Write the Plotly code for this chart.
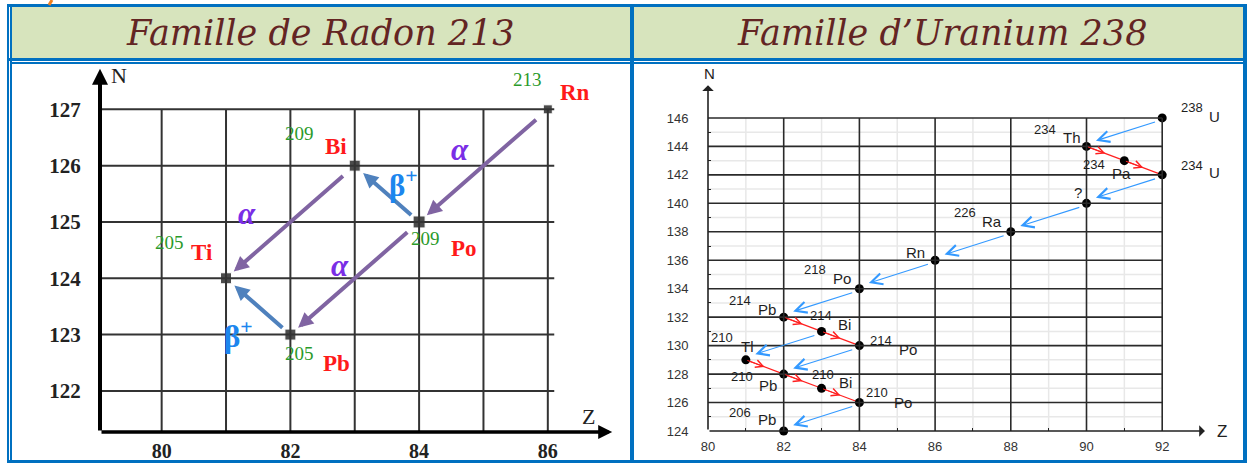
import plotly.graph_objects as go

W, H = 1248, 464

# ---------------- data: Famille de Radon 213 ----------------
rn_Z = [86, 84, 83, 81, 82]
rn_N = [127, 125, 126, 124, 123]
rn_A = ["213", "209", "209", "205", "205"]
rn_sym = ["Rn", "Po", "Bi", "Ti", "Pb"]
rn_decay_from = [0, 1, 2, 1, 4]
rn_decay_to = [1, 2, 3, 4, 3]
rn_decay_type = ["α", "β+", "α", "α", "β+"]
rn_Z_ticks = [80, 82, 84, 86]
rn_N_ticks = [122, 123, 124, 125, 126, 127]
rn_Z_grid = [80, 81, 82, 83, 84, 85, 86]
rn_N_grid = [122, 123, 124, 125, 126, 127]

# ---------------- data: Famille d'Uranium 238 ----------------
u_Z = [92, 90, 91, 92, 90, 88, 86, 84, 82, 83, 84, 81, 82, 83, 84, 82]
u_N = [146, 144, 143, 142, 140, 138, 136, 134, 132, 131, 130, 129, 128, 127, 126, 124]
u_A = ["238", "234", "234", "234", "", "226", "", "218", "214", "214", "214",
       "210", "210", "210", "210", "206"]
u_sym = ["U", "Th", "Pa", "U", "?", "Ra", "Rn", "Po", "Pb", "Bi", "Po",
         "Tl", "Pb", "Bi", "Po", "Pb"]
u_alpha_from = [0, 3, 4, 5, 6, 7, 9, 10, 14]
u_alpha_to = [1, 4, 5, 6, 7, 8, 11, 12, 15]
u_beta_from = [1, 2, 8, 9, 11, 12, 13]
u_beta_to = [2, 3, 9, 10, 12, 13, 14]
u_Z_ticks = [80, 82, 84, 86, 88, 90, 92]
u_N_ticks = [124, 126, 128, 130, 132, 134, 136, 138, 140, 142, 144, 146]
u_Z_minor = [81, 83, 85, 87, 89, 91]
u_N_minor = [125, 127, 129, 131, 133, 135, 137, 139, 141, 143, 145]

# ---------------- styling / geometry ----------------
def PX(x):
    return x / W

def PY(y):
    return 1 - y / H

BLUE = "#0070c0"
SERIF = "Liberation Serif"
SANS = "Liberation Sans"

# left panel scale
L_x0, L_x1, L_zpp, L_zmin = 100, 625, 64.36, 79.042
L_y0, L_y1, L_npp, L_nmin = 432, 65, 56.31, 121.27
L_zmax = L_zmin + (L_x1 - L_x0) / L_zpp
L_nmax = L_nmin + (L_y0 - L_y1) / L_npp
# right panel scale
R_x0, R_x1, R_zpp, R_zmin = 708, 1240, 37.85, 80
R_y0, R_y1, R_npp, R_nmin = 431, 66, 14.23, 124
R_zmax = R_zmin + (R_x1 - R_x0) / R_zpp
R_nmax = R_nmin + (R_y0 - R_y1) / R_npp

fig = go.Figure()

shapes = []
annots = []

# ---- table frame ----
def rect(x0, y0, x1, y1, fill):
    shapes.append(dict(type="rect", xref="paper", yref="paper",
                       x0=PX(x0), x1=PX(x1), y0=PY(y1), y1=PY(y0),
                       fillcolor=fill, line=dict(width=0), layer="below"))

rect(11, 7, 630, 58, "#d7e4bd")
rect(634, 7, 1244, 58, "#d7e4bd")
rect(7, 4, 1247, 7, BLUE)          # top
rect(7, 58, 1247, 61, BLUE)        # title bottom
rect(11, 62, 1244, 64, BLUE)       # second line
rect(7, 4, 9, 463, BLUE)           # left outer
rect(10, 4, 12, 463, BLUE)         # left inner
rect(630, 4, 634, 463, BLUE)       # middle
rect(1243, 4, 1247, 463, BLUE)     # right
rect(7, 460, 1247, 463, BLUE)      # bottom
shapes.append(dict(type="line", xref="paper", yref="paper",
                   x0=PX(52), y0=PY(0), x1=PX(49), y1=PY(5),
                   line=dict(color="#f08020", width=3)))

for txt, cx in [("<i>Famille de Radon 213</i>", 321), ("<i>Famille d’Uranium 238</i>", 942)]:
    annots.append(dict(xref="paper", yref="paper", x=PX(cx), y=PY(33),
                       xanchor="center", yanchor="middle",
                       text=txt, showarrow=False,
                       font=dict(family="DejaVu Serif", size=35, color="#632523")))

# ---- left grid ----
for z in rn_Z_grid:
    shapes.append(dict(type="line", xref="x", yref="y", x0=z, x1=z,
                       y0=L_nmin, y1=max(rn_N_grid), line=dict(color="#333", width=2)))
for n in rn_N_grid:
    shapes.append(dict(type="line", xref="x", yref="y", x0=L_zmin, x1=max(rn_Z_grid) + 0.1,
                       y0=n, y1=n, line=dict(color="#333", width=2)))

# left axes arrows
annots.append(dict(xref="x", yref="y", axref="x", ayref="y", x=L_zmin, y=127.72,
                   ax=L_zmin, ay=L_nmin, showarrow=True, arrowhead=2, arrowsize=0.8,
                   arrowwidth=4, arrowcolor="black", text=""))
annots.append(dict(xref="x", yref="y", axref="x", ayref="y", x=87.0, y=L_nmin,
                   ax=L_zmin, ay=L_nmin, showarrow=True, arrowhead=2, arrowsize=0.8,
                   arrowwidth=3.5, arrowcolor="black", text=""))
annots.append(dict(xref="paper", yref="paper", x=PX(119), y=PY(75), text="N",
                   xanchor="center", yanchor="middle",
                   showarrow=False, font=dict(family=SERIF, size=22, color="#222")))
annots.append(dict(xref="paper", yref="paper", x=PX(588), y=PY(416), text="Z",
                   xanchor="center", yanchor="middle",
                   showarrow=False, font=dict(family=SERIF, size=22, color="#222")))

# left decay arrows
ALPHA_C, BETA_C = "#8064a2", "#4f81bd"
frac = {"α": (0.08, 0.94), "β+": (0.10, 0.87)}
lbl_off = [(-23, -16), (17, -10), (-43, -8), (-15, -13), (-20, 28)]
for k, (i, j, t) in enumerate(zip(rn_decay_from, rn_decay_to, rn_decay_type)):
    f0, f1 = frac[t]
    dz, dn = rn_Z[j] - rn_Z[i], rn_N[j] - rn_N[i]
    annots.append(dict(xref="x", yref="y", axref="x", ayref="y",
                       x=rn_Z[i] + f1 * dz, y=rn_N[i] + f1 * dn,
                       ax=rn_Z[i] + f0 * dz, ay=rn_N[i] + f0 * dn,
                       showarrow=True, arrowhead=2, arrowsize=0.75, arrowwidth=4,
                       arrowcolor=ALPHA_C if t == "α" else BETA_C, text=""))
    mz, mn = rn_Z[i] + 0.5 * dz, rn_N[i] + 0.5 * dn
    ox, oy = lbl_off[k]
    if t == "α":
        txt, col, sz = "<b><i>α</i></b>", "#7a2ee6", 31
    else:
        txt, col, sz = "<b>β<sup>+</sup></b>", "#1c86ee", 31
    annots.append(dict(xref="x", yref="y", x=mz, y=mn, xshift=ox, yshift=-oy,
                       text=txt, showarrow=False, font=dict(family=SERIF, size=sz, color=col)))

# left isotope labels
rn_off = [((-20, -30), (27, -17)), ((6, 17), (45, 27)), ((-55, -32), (-19, -19)),
          ((-57, -36), (-24, -26)), ((9, 19), (46, 29))]
for k in range(len(rn_Z)):
    (mx, my), (sx, sy) = rn_off[k]
    annots.append(dict(xref="x", yref="y", x=rn_Z[k], y=rn_N[k], xshift=mx, yshift=-my,
                       text=rn_A[k], showarrow=False,
                       font=dict(family=SERIF, size=19, color="#2a9a2a")))
    annots.append(dict(xref="x", yref="y", x=rn_Z[k], y=rn_N[k], xshift=sx, yshift=-sy,
                       text="<b>" + rn_sym[k] + "</b>", showarrow=False,
                       font=dict(family=SERIF, size=23, color="#ff1a1a")))

fig.add_trace(go.Scatter(x=rn_Z, y=rn_N, mode="markers", xaxis="x", yaxis="y",
                         marker=dict(symbol="square", color="black",
                                     size=[9, 12, 11, 11, 11]),
                         cliponaxis=False, hoverinfo="skip", showlegend=False))

# ---- right grid ----
for z in u_Z_minor:
    shapes.append(dict(type="line", xref="x2", yref="y2", x0=z, x1=z, y0=R_nmin,
                       y1=max(u_N_ticks), line=dict(color="#e8e8e8", width=1.5), layer="below"))
for n in u_N_minor:
    shapes.append(dict(type="line", xref="x2", yref="y2", x0=R_zmin, x1=max(u_Z_ticks),
                       y0=n, y1=n, line=dict(color="#e8e8e8", width=1.5), layer="below"))
for z in u_Z_ticks[1:]:
    shapes.append(dict(type="line", xref="x2", yref="y2", x0=z, x1=z, y0=R_nmin,
                       y1=max(u_N_ticks), line=dict(color="#2a2a2a", width=1.6)))
for n in u_N_ticks[1:]:
    shapes.append(dict(type="line", xref="x2", yref="y2", x0=R_zmin, x1=max(u_Z_ticks),
                       y0=n, y1=n, line=dict(color="#2a2a2a", width=1.6)))

annots.append(dict(xref="x2", yref="y2", axref="x2", ayref="y2", x=R_zmin, y=148.3,
                   ax=R_zmin, ay=R_nmin, showarrow=True, arrowhead=1, arrowsize=1.2,
                   arrowwidth=1.6, arrowcolor="#222", text=""))
annots.append(dict(xref="x2", yref="y2", axref="x2", ayref="y2", x=93.13, y=R_nmin,
                   ax=R_zmin, ay=R_nmin, showarrow=True, arrowhead=1, arrowsize=1.2,
                   arrowwidth=1.6, arrowcolor="#222", text=""))
annots.append(dict(xref="paper", yref="paper", x=PX(709), y=PY(73), text="N",
                   xanchor="center", yanchor="middle",
                   showarrow=False, font=dict(family=SANS, size=15, color="#222")))
annots.append(dict(xref="paper", yref="paper", x=PX(1222), y=PY(431), text="Z",
                   xanchor="center", yanchor="middle",
                   showarrow=False, font=dict(family=SANS, size=17, color="#222")))

# alpha decays (blue)
for i, j in zip(u_alpha_from, u_alpha_to):
    annots.append(dict(xref="x2", yref="y2", axref="x2", ayref="y2",
                       x=u_Z[j] + 0.25, y=u_N[j] + 0.4,
                       ax=u_Z[i] - 0.15, ay=u_N[i] - 0.25,
                       showarrow=True, arrowhead=5, arrowsize=2.0, arrowwidth=1.1,
                       arrowcolor="#3399ff", text=""))

# beta- decays (red)
bx, by = [], []
for i, j in zip(u_beta_from, u_beta_to):
    bx += [u_Z[i], u_Z[j], None]
    by += [u_N[i], u_N[j], None]
    mz = u_Z[i] + 0.5 * (u_Z[j] - u_Z[i])
    mn = u_N[i] + 0.5 * (u_N[j] - u_N[i])
    annots.append(dict(xref="x2", yref="y2", axref="x2", ayref="y2",
                       x=mz, y=mn, ax=u_Z[i], ay=u_N[i],
                       showarrow=True, arrowhead=5, arrowsize=1.5, arrowwidth=1.0,
                       arrowcolor="#ff2020", text=""))
fig.add_trace(go.Scatter(x=bx, y=by, mode="lines", xaxis="x2", yaxis="y2",
                         line=dict(color="#ff2020", width=1.2),
                         hoverinfo="skip", showlegend=False))

fig.add_trace(go.Scatter(x=u_Z, y=u_N, mode="markers", xaxis="x2", yaxis="y2",
                         marker=dict(symbol="circle", color="black", size=9),
                         cliponaxis=False, hoverinfo="skip", showlegend=False))

u_off = [((30, -10), (52, -1)), ((-42, -17), (-15, -9)), ((-30, 4), (-3, 13)),
         ((30, -9), (52, -2)), ((0, 0), (-9, -11)), ((-46, -19), (-19, -10)),
         ((0, 0), (-20, -8)), ((-44, -19), (-17, -10)), ((-44, -17), (-17, -8)),
         ((-1, -16), (23, -7)), ((22, -5), (49, 4)), ((-24, -22), (2, -13)),
         ((-42, 2), (-16, 11)), ((1, -14), (24, -6)), ((18, -10), (44, 0)),
         ((-44, -19), (-17, -12))]
for k in range(len(u_Z)):
    (mx, my), (sx, sy) = u_off[k]
    if u_A[k]:
        annots.append(dict(xref="x2", yref="y2", x=u_Z[k], y=u_N[k], xshift=mx, yshift=-my,
                           text=u_A[k], showarrow=False,
                           font=dict(family=SANS, size=13, color="#1e1e1e")))
    annots.append(dict(xref="x2", yref="y2", x=u_Z[k], y=u_N[k], xshift=sx, yshift=-sy,
                       text=u_sym[k], showarrow=False,
                       font=dict(family=SANS, size=15, color="#1e1e1e")))

fig.update_layout(
    width=W, height=H, margin=dict(l=0, r=0, t=0, b=0, autoexpand=False),
    paper_bgcolor="white", plot_bgcolor="rgba(0,0,0,0)",
    showlegend=False, shapes=shapes, annotations=annots,
    xaxis=dict(domain=[PX(L_x0), PX(L_x1)], range=[L_zmin, L_zmax], anchor="y",
               tickvals=rn_Z_ticks, ticktext=["<b>%d</b>" % v for v in rn_Z_ticks],
               ticks="outside", ticklen=1, tickcolor="rgba(0,0,0,0)",
               showgrid=False, zeroline=False, showline=False,
               tickfont=dict(family=SERIF, size=20, color="#222")),
    yaxis=dict(domain=[PY(L_y0), PY(L_y1)], range=[L_nmin, L_nmax], anchor="x",
               tickvals=rn_N_ticks, ticktext=["<b>%d</b>" % v for v in rn_N_ticks],
               ticks="outside", ticklen=14, tickcolor="rgba(0,0,0,0)",
               showgrid=False, zeroline=False, showline=False,
               tickfont=dict(family=SERIF, size=21, color="#222")),
    xaxis2=dict(domain=[PX(R_x0), PX(R_x1)], range=[R_zmin, R_zmax], anchor="y2",
                tickvals=u_Z_ticks, ticks="outside", ticklen=3,
                tickcolor="rgba(0,0,0,0)",
                minor=dict(tickvals=u_Z_minor, ticks="inside", ticklen=3,
                           tickcolor="#222", showgrid=False),
                showgrid=False, zeroline=False, showline=False,
                tickfont=dict(family=SANS, size=13, color="#333")),
    yaxis2=dict(domain=[PY(R_y0), PY(R_y1)], range=[R_nmin, R_nmax], anchor="x2",
                tickvals=u_N_ticks, ticks="outside", ticklen=16,
                tickcolor="rgba(0,0,0,0)",
                minor=dict(tickvals=u_N_minor, ticks="inside", ticklen=3,
                           tickcolor="#222", showgrid=False),
                showgrid=False, zeroline=False, showline=False,
                tickfont=dict(family=SANS, size=13, color="#333")),
)

fig.write_html("out.html", config={"displayModeBar": False},
               post_script="document.body.style.margin='0px';"
                           "document.body.style.overflow='hidden';")
